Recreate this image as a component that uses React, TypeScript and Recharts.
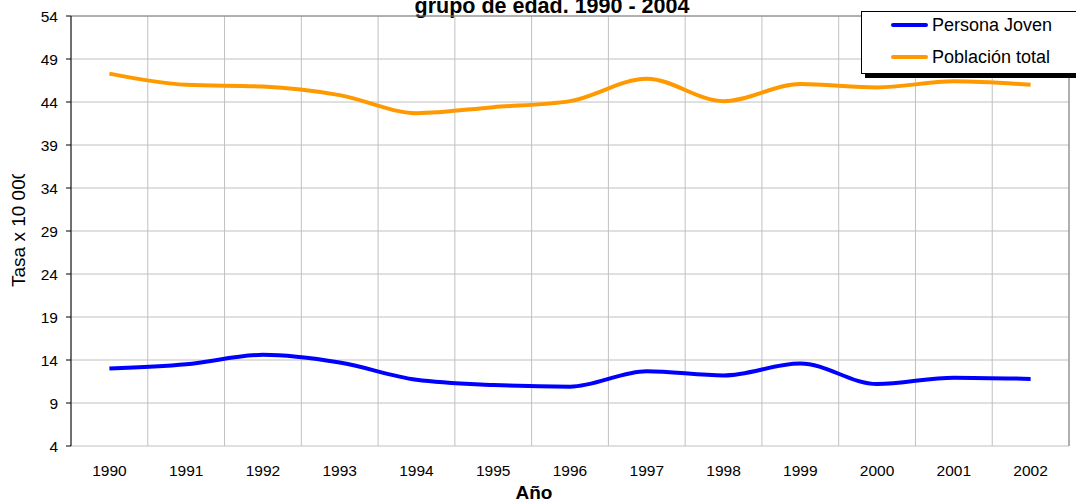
import React from 'react';
import { LineChart, Line, XAxis, YAxis, CartesianGrid, Legend, ReferenceLine, Customized } from 'recharts';

const years = [1990, 1991, 1992, 1993, 1994, 1995, 1996, 1997, 1998, 1999, 2000, 2001, 2002];
const personaJoven = [13.0, 13.5, 14.6, 13.7, 11.7, 11.1, 10.9, 12.7, 12.2, 13.6, 11.2, 11.95, 11.8];
const poblacionTotal = [47.3, 46.0, 45.8, 44.8, 42.7, 43.4, 44.1, 46.7, 44.1, 46.1, 45.7, 46.4, 46.0];
const yTicks = [4, 9, 14, 19, 24, 29, 34, 39, 44, 49, 54];
const boundaries = [1989.5, 1990.5, 1991.5, 1992.5, 1993.5, 1994.5, 1995.5, 1996.5, 1997.5, 1998.5, 1999.5, 2000.5, 2001.5, 2002.5];
const seriesNames = ['Persona Joven', 'Población total'];
const seriesColors = ['#0000FF', '#FF9900'];
const titleText = 'grupo de edad. 1990 - 2004';
const xTitle = 'Año';
const yTitle = 'Tasa x 10 000';

const data = years.map((y, i) => ({ year: y, joven: personaJoven[i], total: poblacionTotal[i] }));

const FONT = '"Liberation Sans", Arial, sans-serif';

const LegendBox = () => (
  <div style={{ position: 'relative', width: 230, height: 80, fontFamily: FONT }}>
    <div style={{ position: 'absolute', left: 4, top: 62, width: 230, height: 5, background: '#000' }} />
    <div style={{ position: 'absolute', left: 0, top: 0, width: 230, height: 63, background: '#fff', border: '1px solid #000', boxSizing: 'border-box' }} />
    {seriesNames.map((n, i) => (
      <div key={n} style={{ position: 'absolute', left: 30, top: 1 + i * 32, height: 26, display: 'flex', alignItems: 'center' }}>
        <div style={{ width: 37, height: 4, background: seriesColors[i], borderRadius: 2 }} />
        <span style={{ marginLeft: 4, fontSize: 18, color: '#000', whiteSpace: 'nowrap' }}>{n}</span>
      </div>
    ))}
  </div>
);

const Title = () => (
  <text x={552} y={12.7} textAnchor="middle" fontFamily={FONT} fontWeight="bold" fontSize={21.5} fill="#000">{titleText}</text>
);

const YLabel = () => (
  <g>
    <defs>
      <clipPath id="ylabclip">
        <rect x={0} y={174} width={40} height={200} />
      </clipPath>
    </defs>
    <g clipPath="url(#ylabclip)">
      <text x={25} y={287} transform="rotate(-90 25 287)" textAnchor="start" fontFamily={FONT} fontSize={19} fill="#000">{yTitle}</text>
    </g>
  </g>
);

const XLabel = () => (
  <text x={534} y={499} textAnchor="middle" fontFamily={FONT} fontWeight="bold" fontSize={19} fill="#000">{xTitle}</text>
);

export default function App() {
  return (
    <div style={{ position: 'absolute', left: 0, top: 0, width: 1076, height: 502, background: '#fff' }}>
      <LineChart width={1076} height={502} data={data} margin={{ top: 16, right: 7, bottom: 26, left: 11 }}>
        <CartesianGrid stroke="#c0c0c0" strokeWidth={1} />
        <XAxis
          dataKey="year"
          type="number"
          domain={[1989.5, 2002.5]}
          ticks={boundaries}
          tickFormatter={() => ''}
          tickSize={5}
          height={0}
          axisLine={{ stroke: '#000' }}
          tickLine={{ stroke: '#000' }}
          allowDataOverflow
        />
        <XAxis
          xAxisId="labels"
          dataKey="year"
          type="number"
          domain={[1989.5, 2002.5]}
          ticks={years}
          interval={0}
          axisLine={false}
          tickLine={false}
          tickSize={0}
          tickMargin={19}
          height={30}
          tick={{ fill: '#000', fontSize: 15.5, fontFamily: FONT }}
          label={<XLabel />}
          allowDataOverflow
        />
        <YAxis
          domain={[4, 54]}
          ticks={yTicks}
          interval={0}
          width={60}
          tickSize={5}
          tickMargin={8}
          axisLine={{ stroke: '#000' }}
          tickLine={{ stroke: '#000' }}
          tick={{ fill: '#000', fontSize: 15.5, fontFamily: FONT }}
          label={<YLabel />}
          allowDataOverflow
        />
        <ReferenceLine y={54} stroke="#808080" strokeWidth={1} />
        <ReferenceLine x={2002.5} stroke="#808080" strokeWidth={1} />
        <Line dataKey="joven" name={seriesNames[0]} type="monotone" stroke={seriesColors[0]} strokeWidth={4} dot={false} isAnimationActive={false} />
        <Line dataKey="total" name={seriesNames[1]} type="monotone" stroke={seriesColors[1]} strokeWidth={4} dot={false} isAnimationActive={false} />
        <Legend
          layout="horizontal"
          verticalAlign="middle"
          align="center"
          content={<LegendBox />}
          wrapperStyle={{ position: 'absolute', left: 861, top: 11, width: 230, height: 80 }}
        />
        <Customized component={Title} />
      </LineChart>
    </div>
  );
}
